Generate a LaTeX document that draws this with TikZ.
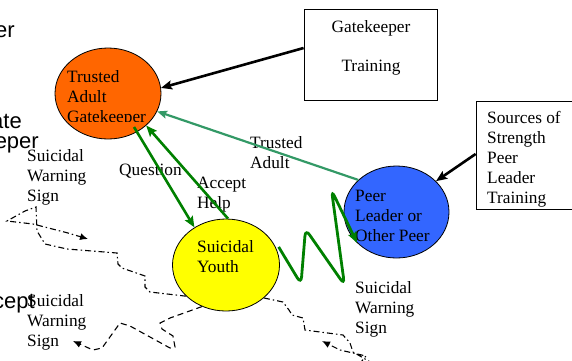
\documentclass[tikz,border=0pt]{standalone}
\usepackage{fontspec}
\setmainfont{Liberation Serif}
\setsansfont{Liberation Sans}
\usetikzlibrary{arrows.meta,shapes.geometric}

\definecolor{adultfill}{HTML}{FF6600}
\definecolor{youthfill}{HTML}{FFFF00}
\definecolor{peerfill}{HTML}{3366FF}
\definecolor{helpgreen}{HTML}{008000}
\definecolor{trustgreen}{HTML}{339966}

\begin{document}
\begin{tikzpicture}[x=1pt,y=-1pt,
  % multi-line labels are placed by the baseline of their last line
  lbl/.style={inner sep=0pt, anchor=base west, align=left,
              font=\fontsize{17.3}{20}\selectfont},
  frag/.style={inner sep=0pt, anchor=base east,
               font=\sffamily\fontsize{22}{26}\selectfont},
  blob/.style={ellipse, draw=black, line width=0.8pt, inner sep=0pt},
  panel/.style={draw=black, line width=0.8pt, inner sep=0pt},
  blackarrow/.style={draw=black, line width=2.6pt,
                     -{Stealth[length=11pt,width=9pt,inset=2pt]}},
  greenarrow/.style={draw=helpgreen, line width=2.6pt,
                     -{Stealth[length=11pt,width=9pt,inset=2pt]}},
  trustarrow/.style={draw=trustgreen, line width=2.2pt,
                     -{Stealth[length=10pt,width=8pt,inset=2pt]}},
  signal/.style={draw=helpgreen, line width=2.8pt, rounded corners=7pt,
                 -{Stealth[length=11pt,width=9pt,inset=2pt]}},
  dashdotline/.style={draw=black, line width=1.1pt,
                      dash pattern=on 6pt off 3pt on 1.5pt off 3pt,
                      -{Latex[length=8pt,width=7pt]}},
  dashline/.style={draw=black, line width=1.1pt,
                   dash pattern=on 6pt off 4pt,
                   -{Latex[length=8pt,width=7pt]}}
]
\useasboundingbox (0,0) rectangle (572,360);
\clip (0,0) rectangle (572,360);

% word fragments at the left edge
\node[frag] (fragA) at (15,37) {er};
\node[frag] (fragB) at (22,128) {ate};
\node[frag] (fragC) at (39,148) {eper};
\node[frag] (fragD) at (35,308) {cept};

% the three people
\node[blob, fill=adultfill, minimum width=106pt, minimum height=91pt] (adult) at (108,93.5) {};
\node[blob, fill=youthfill, minimum width=107pt, minimum height=92pt] (youth) at (226,265) {};
\node[blob, fill=peerfill, minimum width=105pt, minimum height=92pt] (peer) at (396.5,212) {};

\begin{scope}
  \clip (0,0) rectangle (572,121.5);
  \node[lbl] (adulttext) at (67,122) {Trusted\\Adult\\Gatekeeper};
\end{scope}
\node[lbl] (youthtext) at (197,272.7) {Suicidal\\Youth};
\node[lbl] (peertext) at (355,241) {Peer\\Leader or\\Other Peer};

% training boxes
\node[panel, minimum width=133pt, minimum height=91pt] (gk) at (370.5,54.5) {};
\node[lbl, anchor=base] (gktext) at (371,32) {Gatekeeper};
\node[lbl, anchor=base] (gktext2) at (371,71) {Training};
\node[panel, minimum width=130pt, minimum height=108pt] (src) at (541,155) {};
\node[lbl] (srctext) at (487,203) {Sources of\\Strength\\Peer\\Leader\\Training};

% labels
\node[lbl] (warnA) at (27,201) {Suicidal\\Warning\\Sign};
\node[lbl] (warnB) at (27,346) {Suicidal\\Warning\\Sign};
\node[lbl] (warnC) at (355,333) {Suicidal\\Warning\\Sign};
\node[lbl] (question) at (119,175) {Question};
\node[lbl] (accept) at (197,208) {Accept\\Help};
\node[lbl] (trusted) at (250,168) {Trusted\\Adult};

% connectors
\draw[blackarrow] ([yshift=6.5pt]gk.west) -- (adult.6);
\draw[blackarrow] ([yshift=1pt]src.west) -- (peer.38);
\draw[greenarrow] ([shift={(26pt,-33.5pt)}]adult.center) -- (youth.130);
\draw[greenarrow] ([xshift=2pt]youth.north) -- (adult.-40);
\draw[trustarrow] (peer.140) -- (adult.-20);
\draw[signal] ([xshift=3pt]youth.20) -- (301,284) -- (305.5,229) -- (344.5,285)
  -- (331.5,190) -- (peer.218);

% warning sign trails
\coordinate (trailA) at (88,239);
\coordinate (trailB) at (73,341);
\coordinate (trailC) at (322,341);
\draw[dashdotline] (youth.218) -- (150,292) -- (145,287) -- (145,276)
  -- (122,268) -- (118,264) -- (117,253) -- (67,249) -- (45,244)
  -- (37,231) -- (36,207) -- (25,211) -- (7,221) -- (33,224)
  -- (68,233) -- (trailA);
\draw[dashline] (youth.240) -- (170,318) -- (160,323) -- (162,329)
  -- (173,336) -- (175,347) -- (170,348) -- (130,326) -- (120,323)
  -- (102,348) -- (93,350) -- (trailB);
\draw[dashdotline] (youth.-41) -- (283,302) -- (289,310) -- (292,315)
  -- (303,318) -- (305,330) -- (320,332) -- (343,335) -- (350,343)
  -- (353,352) -- (372,363) -- (378,370) -- (356,368) -- (366,356)
  -- (340,350) -- (trailC);
\end{tikzpicture}
\end{document}
